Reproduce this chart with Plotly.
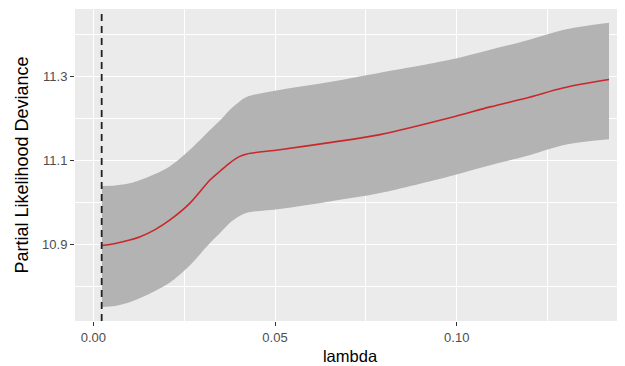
import plotly.graph_objects as go

lam = [0.0024, 0.0060, 0.0100, 0.0129, 0.0170, 0.0211, 0.0266, 0.0321, 0.0350, 0.0376, 0.0400, 0.0423, 0.0513, 0.0650, 0.0789, 0.0981, 0.1092, 0.1200, 0.1292, 0.1419]
mean_dev = [10.897, 10.902, 10.910, 10.918, 10.935, 10.958, 10.998, 11.053, 11.075, 11.094, 11.108, 11.115, 11.125, 11.142, 11.161, 11.201, 11.227, 11.250, 11.272, 11.292]
upper = [11.039, 11.040, 11.045, 11.053, 11.067, 11.086, 11.125, 11.172, 11.196, 11.220, 11.238, 11.251, 11.267, 11.286, 11.308, 11.339, 11.363, 11.387, 11.410, 11.427]
lower = [10.751, 10.753, 10.762, 10.772, 10.789, 10.809, 10.850, 10.903, 10.928, 10.951, 10.966, 10.975, 10.984, 11.002, 11.022, 11.062, 11.088, 11.112, 11.136, 11.150]
lambda_min = 0.0023
x_ticks = [0.0, 0.05, 0.10]
x_tick_labels = ["0.00", "0.05", "0.10"]
y_ticks = [10.9, 11.1, 11.3]
y_tick_labels = ["10.9", "11.1", "11.3"]

FONT = "Liberation Sans, Arial"
SM = 0.9

fig = go.Figure()
fig.add_trace(go.Scatter(x=lam, y=lower, mode="lines", line=dict(width=0, shape="spline", smoothing=SM),
                         showlegend=False, hoverinfo="skip"))
fig.add_trace(go.Scatter(x=lam, y=upper, mode="lines", line=dict(width=0, shape="spline", smoothing=SM),
                         fill="tonexty", fillcolor="#b3b3b3", showlegend=False, hoverinfo="skip"))
fig.add_trace(go.Scatter(x=lam, y=mean_dev, mode="lines",
                         line=dict(color="#c8282c", width=1.6, shape="spline", smoothing=SM), showlegend=False))

fig.add_shape(type="line", xref="x", yref="paper", x0=lambda_min, x1=lambda_min, y0=0, y1=1,
              line=dict(color="#222222", width=1.8, dash="7px,5px"))

fig.update_xaxes(range=[-0.00504, 0.1463], tickvals=x_ticks, ticktext=x_tick_labels,
                 showgrid=True, gridcolor="white", gridwidth=1.1, zeroline=False, automargin=False,
                 ticks="outside", ticklen=4, tickcolor="#333333", tickwidth=1,
                 tickfont=dict(family=FONT, size=13, color="#4d4d4d"),
                 title=dict(text="lambda", font=dict(family=FONT, size=16.5, color="black"), standoff=6),
                 minor=dict(tickvals=[0.025, 0.075, 0.125], showgrid=True, gridcolor="white", gridwidth=0.5,
                            ticks=""))
fig.update_yaxes(range=[10.7174, 11.460], tickvals=y_ticks, ticktext=y_tick_labels,
                 showgrid=True, gridcolor="white", gridwidth=1.1, zeroline=False, automargin=False,
                 ticks="outside", ticklen=4, tickcolor="#333333", tickwidth=1,
                 tickfont=dict(family=FONT, size=13, color="#4d4d4d"),
                 title=dict(text="Partial Likelihood Deviance",
                            font=dict(family=FONT, size=18, color="black"), standoff=8),
                 minor=dict(tickvals=[10.8, 11.0, 11.2, 11.4], showgrid=True, gridcolor="white", gridwidth=0.5,
                            ticks=""))
# page body has an 8px margin, so the figure is sized/offset to land on the 625x366 window
fig.update_layout(width=617, height=358, margin=dict(l=67, r=0, t=1, b=45, autoexpand=False),
                  plot_bgcolor="#ebebeb", paper_bgcolor="white")
fig.write_html("out.html")
